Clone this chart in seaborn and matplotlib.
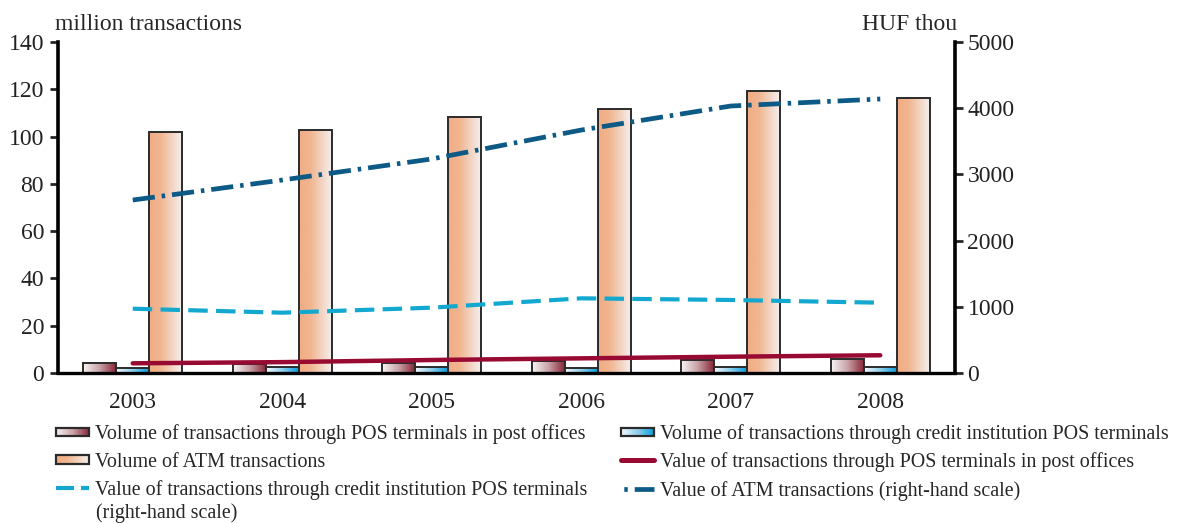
import numpy as np
import pandas as pd
import matplotlib
import matplotlib.pyplot as plt
import seaborn as sns
from matplotlib.colors import LinearSegmentedColormap
from matplotlib.patches import Rectangle
from matplotlib.lines import Line2D
from matplotlib.legend_handler import HandlerBase

# values
years = ['2003', '2004', '2005', '2006', '2007', '2008']
pos_post_volume = [4.1, 3.7, 4.3, 5.1, 5.5, 5.8]        # million transactions
pos_credit_volume = [2.2, 2.4, 2.4, 2.1, 2.7, 2.7]      # million transactions
atm_volume = [102.1, 102.8, 108.2, 111.8, 119.3, 116.5]  # million transactions
pos_post_value = [4.1, 4.6, 5.5, 6.2, 6.9, 7.5]         # left scale
pos_credit_value = [971, 911, 987, 1128, 1103, 1062]    # HUF thou, right scale
atm_value = [2613, 2915, 3233, 3670, 4033, 4139]        # HUF thou, right scale

bar_labels = ['Volume of transactions through POS terminals in post offices',
              'Volume of transactions through credit institution POS terminals',
              'Volume of ATM transactions']
line_labels = ['Value of transactions through POS terminals in post offices',
               'Value of transactions through credit institution POS terminals',
               'Value of ATM transactions (right-hand scale)']
wrap_label = '(right-hand scale)'

sns.set_style('white')
plt.rcParams['font.family'] = ['Liberation Serif', 'DejaVu Serif']
plt.rcParams['lines.scale_dashes'] = False

edge = '#2b2b2b'
cmaps = [
    LinearSegmentedColormap.from_list('post', ['#f7f4f4', '#c9a3a8', '#8a2838']),
    LinearSegmentedColormap.from_list('credit', ['#f4f9fc', '#8fd0ee', '#0a9ddb']),
    LinearSegmentedColormap.from_list('atm', [(0, '#f1ad84'), (0.35, '#f1b590'), (1, '#f4efed')]),
]
red = '#990a33'
light_blue = '#12a8cf'
dark_blue = '#0d5a86'

df = pd.DataFrame({
    'year': years * 3,
    'series': [bar_labels[0]] * 6 + [bar_labels[1]] * 6 + [bar_labels[2]] * 6,
    'volume': pos_post_volume + pos_credit_volume + atm_volume,
})

fig = plt.figure(figsize=(11.88, 5.23), dpi=100)
ax = fig.add_axes([58 / 1188, 1 - 373 / 523, 897 / 1188, 331 / 523])

sns.barplot(data=df, x='year', y='volume', hue='series', hue_order=bar_labels,
            order=years, width=0.66, palette=['#999', '#999', '#999'],
            edgecolor=edge, linewidth=1.4, ax=ax, legend=False, zorder=2)

# gradient fill inside each bar
grad = np.linspace(0, 1, 64).reshape(1, -1)
for cont, cmap in zip(ax.containers, cmaps):
    for bar in cont:
        bar.set_facecolor('none')
        x0, y0 = bar.get_x(), bar.get_y()
        w, h = bar.get_width(), bar.get_height()
        im = ax.imshow(grad, extent=[x0, x0 + w, y0, y0 + h], aspect='auto',
                       cmap=cmap, zorder=1.5, interpolation='bilinear')
        im.set_clip_path(bar)

idx = np.arange(len(years))
sns.lineplot(x=idx, y=pos_post_value, ax=ax, color=red, linewidth=3.2, zorder=5)

ax.set_xlim(-0.5, 5.5)
ax.set_ylim(0, 140)
ax.set_yticks(range(0, 141, 20))
ax.set_xticks(np.arange(-0.5, 6, 1))
ax.set_xticklabels([])
ax.set_xticks(idx, minor=True)
ax.set_xticklabels(years, minor=True)
ax.set_xlabel('')
ax.set_ylabel('')
ax.tick_params(axis='x', which='major', direction='out', length=6, width=2.5, color='black')
ax.tick_params(axis='x', which='minor', length=0, pad=14, labelsize=17, labelcolor='#222')
ax.tick_params(axis='y', direction='out', length=6, width=2, pad=4, labelsize=17,
               labelcolor='#222', left=True)
for s in ['top', 'right']:
    ax.spines[s].set_visible(False)
ax.spines['left'].set_linewidth(2.6)
ax.spines['bottom'].set_linewidth(2.4)
ax.spines['left'].set_color('black')
ax.spines['bottom'].set_color('black')

ax2 = ax.twinx()
sns.lineplot(x=idx, y=pos_credit_value, ax=ax2, color=light_blue, linewidth=3,
             linestyle=(0, (14, 6)))
sns.lineplot(x=idx, y=atm_value, ax=ax2, color=dark_blue, linewidth=3.4,
             linestyle=(0, (16, 5, 2.5, 5)))
ax2.set_ylim(0, 5000)
ax2.set_yticks(range(0, 5001, 1000))
ax2.set_ylabel('')
ax2.tick_params(axis='y', direction='out', length=6, width=2, pad=3, labelsize=17,
                labelcolor='#222', right=True)
for s in ['top', 'left', 'bottom']:
    ax2.spines[s].set_visible(False)
ax2.spines['right'].set_linewidth(2.6)
ax2.spines['right'].set_color('black')
ax2.grid(False)
ax.grid(False)

fig.text(55 / 1188, 1 - 30 / 523, 'million transactions', fontsize=17, va='baseline', ha='left')
fig.text(957 / 1188, 1 - 30 / 523, 'HUF thou', fontsize=17, va='baseline', ha='right')


class GradientHandler(HandlerBase):
    def __init__(self, cmap):
        super().__init__()
        self.cmap = cmap

    def create_artists(self, legend, orig_handle, xdescent, ydescent, width, height,
                       fontsize, trans):
        n = 24
        h = height * 0.62
        y0 = -ydescent + (height - h) / 2
        arts = []
        for i in range(n):
            arts.append(Rectangle((-xdescent + width * i / n, y0), width / n + 0.3, h,
                                  facecolor=self.cmap((i + 0.5) / n), edgecolor='none',
                                  transform=trans))
        arts.append(Rectangle((-xdescent, y0), width, h, facecolor='none',
                              edgecolor=edge, linewidth=1.6, transform=trans))
        return arts


proxies = [Rectangle((0, 0), 1, 1) for _ in range(3)]
hmap = {p: GradientHandler(c) for p, c in zip(proxies, cmaps)}
red_h = Line2D([], [], color=red, linewidth=3.6)
lb_h = Line2D([], [], color=light_blue, linewidth=3, linestyle=(0, (13, 5)))
db_h = Line2D([], [], color=dark_blue, linewidth=3.4, linestyle=(19, (16, 5, 2.5, 5)))

leg_kw = dict(loc='upper left', frameon=False, fontsize=14.4, handlelength=1.65,
              handletextpad=0.3, labelspacing=0.43, borderpad=0, borderaxespad=0,
              handler_map=hmap)
fig.legend([proxies[0], proxies[2], lb_h], [bar_labels[0], bar_labels[2], line_labels[1]],
           bbox_to_anchor=(56 / 1188, 1 - 424 / 523), **leg_kw)
fig.legend([proxies[1], red_h, db_h], [bar_labels[1], line_labels[0], line_labels[2]],
           bbox_to_anchor=(621 / 1188, 1 - 424 / 523), **leg_kw)
# second line of the wrapped legend label
fig.text(96 / 1188, 1 - 513 / 523, wrap_label, fontsize=14.4, va='center', ha='left')

plt.savefig('out.png', dpi=100)
